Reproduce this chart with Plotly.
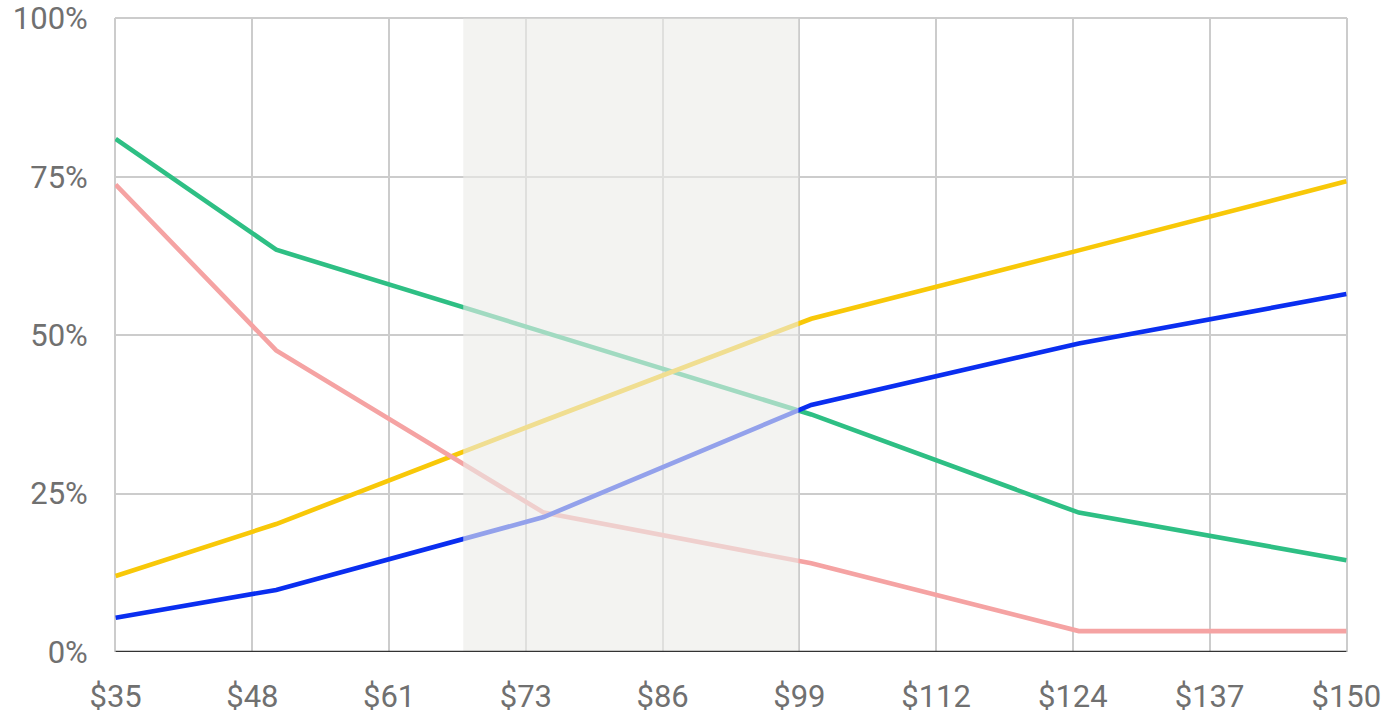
import plotly.graph_objects as go

# Price points (USD) and share of respondents for each curve
prices = [35, 50, 75, 100, 125, 150]
too_cheap = [0.81, 0.635, 0.505, 0.375, 0.22, 0.145]
too_expensive = [0.12, 0.202, 0.365, 0.526, 0.634, 0.743]
not_cheap = [0.738, 0.476, 0.22, 0.14, 0.033, 0.033]
not_expensive = [0.054, 0.098, 0.213, 0.39, 0.487, 0.565]

# Acceptable price range (shaded band)
band_low, band_high = 67.48, 98.8

x_ticks = [35 + 115 * k / 9 for k in range(10)]
x_tick_labels = ["$35", "$48", "$61", "$73", "$86", "$99", "$112", "$124", "$137", "$150"]
y_ticks = [0, 0.25, 0.5, 0.75, 1.0]
y_tick_labels = ["0%", "25%", "50%", "75%", "100%"]

series = [
    ("Too cheap", too_cheap, "#2ebf84"),
    ("Too expensive", too_expensive, "#f8c808"),
    ("Not cheap", not_cheap, "#f5a3a3"),
    ("Not expensive", not_expensive, "#0a2ef0"),
]

grid_color = "#cccccc"

fig = go.Figure()
for name, vals, color in series:
    fig.add_trace(go.Scatter(
        x=prices, y=vals, mode="lines", name=name,
        line=dict(color=color, width=4.6),
        cliponaxis=True,
    ))

# Outer grid lines (left, right, top) of the plotting area
for x0, x1, y0, y1 in [(0, 0, 0, 1), (1, 1, 0, 1), (0, 1, 1, 1)]:
    fig.add_shape(
        type="line", xref="x domain", yref="y domain",
        x0=x0, x1=x1, y0=y0, y1=y1,
        line=dict(color=grid_color, width=2), layer="below",
    )

# Semi-transparent veil over the acceptable range: greys the background
# and softens the curves that pass through it
fig.add_shape(
    type="rect", xref="x", yref="y",
    x0=band_low, x1=band_high, y0=0, y1=1,
    fillcolor="rgba(235,235,232,0.61)", line=dict(width=0),
    layer="above",
)
# Baseline at 0%
fig.add_shape(
    type="line", xref="x", yref="y",
    x0=35, x1=150, y0=0, y1=0,
    line=dict(color="#333333", width=2.5),
    layer="above",
)

font_family = "Roboto, Arial, sans-serif"
eps_x, eps_y = 0.06, 0.0008
fig.update_layout(
    width=1394, height=715,
    margin=dict(l=115, r=47, t=18, b=63),
    paper_bgcolor="white", plot_bgcolor="white",
    showlegend=False,
    font=dict(family=font_family, size=31, color="#707070"),
    xaxis=dict(
        range=[35 - eps_x, 150 + eps_x], tickmode="array", tickvals=x_ticks, ticktext=x_tick_labels,
        showgrid=True, gridcolor=grid_color, gridwidth=2,
        zeroline=False, showline=False, automargin=False,
        ticks="outside", ticklen=17, tickcolor="rgba(0,0,0,0)",
        tickfont=dict(family=font_family, size=31, color="#707070"),
    ),
    yaxis=dict(
        range=[0, 1 + eps_y], tickmode="array", tickvals=y_ticks, ticktext=y_tick_labels,
        showgrid=True, gridcolor=grid_color, gridwidth=2,
        zeroline=False, showline=False, automargin=False,
        ticks="outside", ticklen=20, tickcolor="rgba(0,0,0,0)",
        tickfont=dict(family=font_family, size=31, color="#707070"),
    ),
)

fig.write_html("out.html")
